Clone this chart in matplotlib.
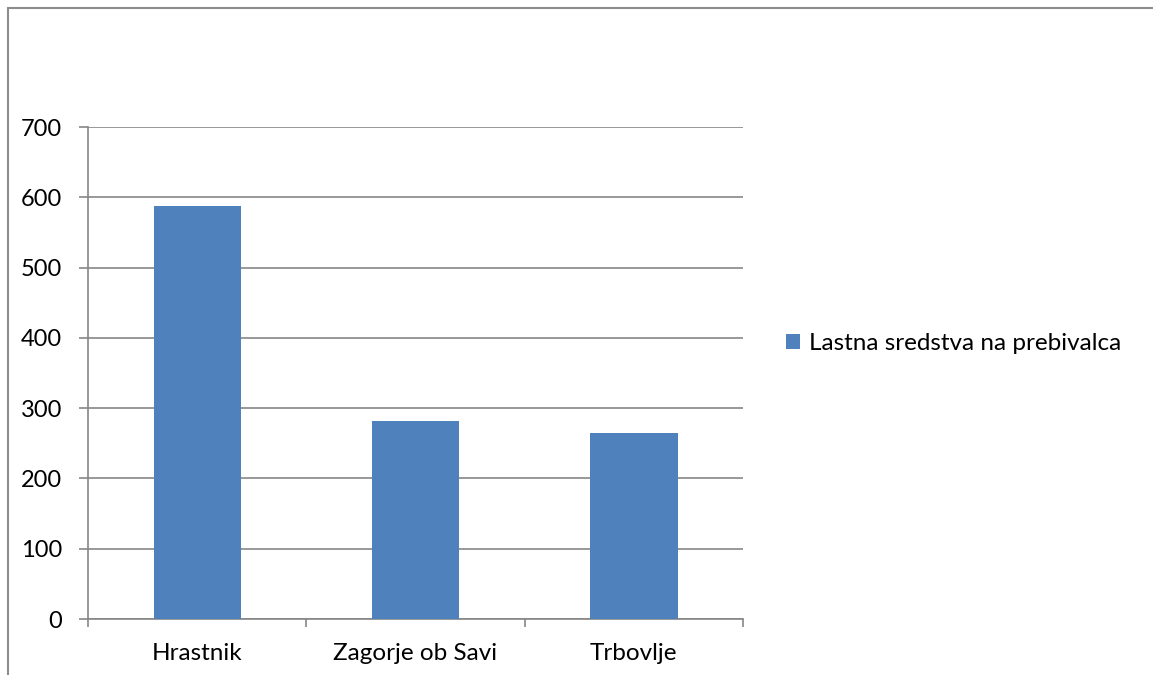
import matplotlib
matplotlib.use("Agg")
import matplotlib.pyplot as plt
from matplotlib.patches import Rectangle
import numpy as np

categories = ["Hrastnik", "Zagorje ob Savi", "Trbovlje"]
values = [588, 281, 265]
series_name = "Lastna sredstva na prebivalca"
yticks = [0, 100, 200, 300, 400, 500, 600, 700]

plt.rcParams.update({
    "font.family": ["Lato", "DejaVu Sans"],
    "font.size": 17.5,
})

W, H = 1153, 675
fig = plt.figure(figsize=(W / 100, H / 100), dpi=100)

# outer chart frame (gray border, cut off at right/bottom)
fig.patches.append(Rectangle((8 / W, -0.1), 1.2, (H - 8) / H + 0.1,
                             transform=fig.transFigure, fill=False,
                             edgecolor="#8c8c8c", linewidth=1.5))

ax = fig.add_axes([88 / W, (H - 619) / H, (743 - 88) / W, (619 - 127) / H])
x = np.arange(len(categories))
ax.bar(x, values, width=0.4, color="#4F81BD", zorder=3, label=series_name)

ax.set_xlim(-0.5, len(categories) - 0.5)
ax.set_ylim(0, 700)
ax.set_yticks(yticks)
ax.set_yticklabels([str(v) for v in yticks], color="black", fontsize=17)
ax.yaxis.grid(True, color="#868686", linewidth=1.2, zorder=0)

# category ticks between groups, labels centred under bars
ax.set_xticks(np.arange(len(categories) + 1) - 0.5)
ax.set_xticklabels([])
ax.set_xticks(x, minor=True)
ax.set_xticklabels(categories, minor=True)
ax.tick_params(axis="x", which="minor", length=0, pad=17)
ax.tick_params(axis="x", which="major", length=6, color="#868686", width=1.2)
ax.tick_params(axis="y", length=6.5, color="#868686", width=1.2, pad=12)

for side in ("top", "right"):
    ax.spines[side].set_visible(False)
for side in ("left", "bottom"):
    ax.spines[side].set_color("#868686")
    ax.spines[side].set_linewidth(1.2)

ax.legend(loc="center left", bbox_to_anchor=(1.065, 0.560), frameon=False,
          handlelength=0.6, handleheight=0.6, handletextpad=0.35,
          borderaxespad=0, borderpad=0)

fig.savefig("out.png", dpi=100)
